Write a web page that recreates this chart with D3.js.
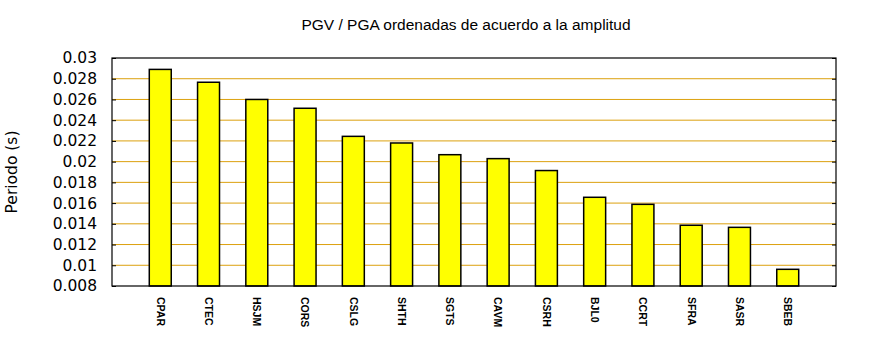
<!DOCTYPE html>
<html><head><meta charset="utf-8">
<script src="https://cdn.jsdelivr.net/npm/d3@7"></script>
<style>body{margin:0;background:#fff}</style>
</head><body>
<script>
const categories = ["CPAR","CTEC","HSJM","CORS","CSLG","SHTH","SGTS","CAVM","CSRH","BJL0","CCRT","SFRA","SASR","SBEB"];
const values = [0.0289,0.02766,0.0260,0.02515,0.02244,0.0218,0.02067,0.02029,0.01914,0.01656,0.01588,0.01386,0.01366,0.00961];
const yTicks = [0.008,0.01,0.012,0.014,0.016,0.018,0.02,0.022,0.024,0.026,0.028,0.03];
const yTickLabels = ["0.008","0.01","0.012","0.014","0.016","0.018","0.02","0.022","0.024","0.026","0.028","0.03"];
const title = "PGV / PGA ordenadas de acuerdo a la amplitud";
const yTitle = "Periodo (s)";

const W = 870, H = 350;
const L = 112, R = 836, T = 58, B = 286;
const svg = d3.select("body").append("svg").attr("width", W).attr("height", H);

const x = d3.scaleLinear().domain([0, categories.length + 1]).range([L, R]);
const y = d3.scaleLinear().domain([0.008, 0.03]).range([B, T]);
const barW = (x(1) - x(0)) * 0.455;

// grid
svg.append("g").selectAll("line").data(yTicks.filter(t => t > 0.0081 && t < 0.0299)).join("line")
  .attr("x1", L).attr("x2", R).attr("y1", d => y(d)).attr("y2", d => y(d))
  .attr("stroke", "#dca10e").attr("stroke-width", 1);

// bars
svg.append("g").selectAll("rect").data(values).join("rect")
  .attr("x", (d, i) => x(i + 1) - barW / 2)
  .attr("width", barW)
  .attr("y", d => y(d))
  .attr("height", d => B - y(d))
  .attr("fill", "#ffff00").attr("stroke", "#000").attr("stroke-width", 1.5);

// left axis with inward ticks
const yAxisL = d3.axisLeft(y).tickValues(yTicks).tickFormat((d, i) => yTickLabels[i]).tickSizeInner(-4).tickSizeOuter(0).tickPadding(15);
const gl = svg.append("g").attr("transform", `translate(${L},0)`).call(yAxisL);
gl.select(".domain").remove();
gl.selectAll(".tick line").attr("stroke", "#000");
gl.selectAll("text").attr("font-family", "DejaVu Sans").attr("font-size", "15.5px").attr("fill", "#000");

const yAxisR = d3.axisRight(y).tickValues(yTicks).tickFormat("").tickSizeInner(-4).tickSizeOuter(0);
const gr = svg.append("g").attr("transform", `translate(${R},0)`).call(yAxisR);
gr.select(".domain").remove();
gr.selectAll(".tick line").attr("stroke", "#000");

// frame
svg.append("rect").attr("x", L).attr("y", T).attr("width", R - L).attr("height", B - T)
  .attr("fill", "none").attr("stroke", "#000").attr("stroke-width", 1.2);

// x labels
svg.append("g").selectAll("text").data(categories).join("text")
  .attr("transform", (d, i) => `translate(${x(i + 1)},${B + 11}) rotate(90)`)
  .attr("dy", "0.35em")
  .attr("font-family", "Liberation Sans").attr("font-size", "10.5px").attr("font-weight", "bold")
  .attr("fill", "#000")
  .text(d => d);

// title
svg.append("text").attr("x", 466).attr("y", 30).attr("text-anchor", "middle")
  .attr("font-family", "Liberation Sans").attr("font-size", "15.5px").attr("fill", "#000").text(title);

// y title
svg.append("text").attr("transform", "translate(17,172) rotate(-90)").attr("text-anchor", "middle")
  .attr("font-family", "DejaVu Sans").attr("font-size", "15.5px").attr("fill", "#000").text(yTitle);
</script>
</body></html>
